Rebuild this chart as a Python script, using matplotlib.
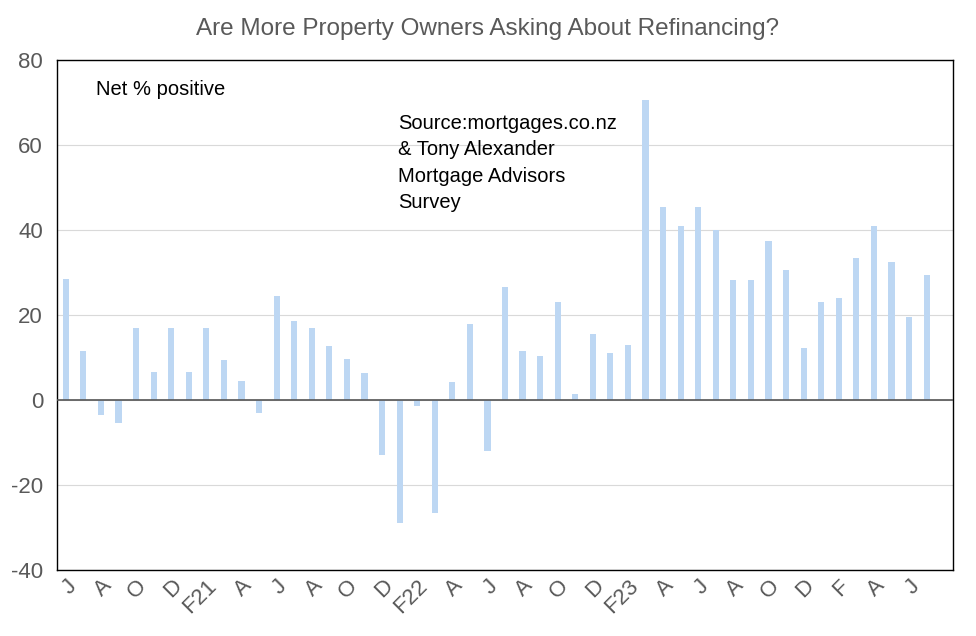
import numpy as np
import matplotlib.pyplot as plt

values = [28.5, 11.5, -3.5, -5.5, 17, 6.5, 17, 6.5, 17, 9.5,
          4.5, -3, 24.5, 18.5, 17, 12.7, 9.7, 6.4, -13, -29,
          -1.5, -26.5, 4.3, 18, -12, 26.5, 11.5, 10.4, 23, 1.5,
          15.5, 11, 13, 70.5, 45.5, 41, 45.5, 40, 28.3, 28.3,
          37.5, 30.5, 12.3, 23, 24, 33.5, 41, 32.5, 19.5, 29.3]
tick_labels = ['J', 'A', 'O', 'D', 'F21', 'A', 'J', 'A', 'O', 'D', 'F22', 'A', 'J',
               'A', 'O', 'D', 'F23', 'A', 'J', 'A', 'O', 'D', 'F', 'A', 'J']

plt.rcParams['font.family'] = ['Liberation Sans', 'DejaVu Sans']
plt.rcParams['axes.unicode_minus'] = False
fig = plt.figure(figsize=(9.76, 6.36), dpi=100)
ax = fig.add_axes([57/976, 66/636, 896/976, 510/636])

x = np.arange(len(values))
ax.bar(x, values, width=0.35, color='#bdd7f3', zorder=2)
ax.axhline(0, color='#555555', lw=1.2, zorder=3)

ax.set_xlim(-0.5, 50.5)
ax.set_ylim(-40, 80)
ax.set_yticks(range(-40, 81, 20))
ax.yaxis.grid(True, color='#d9d9d9', lw=0.8, zorder=0)
ax.set_xticks(x[::2])
ax.set_xticklabels(tick_labels, rotation=45, ha='right', va='top', rotation_mode='anchor',
                   fontsize=16, color='#595959')
ax.tick_params(axis='x', length=0, pad=4)
ax.tick_params(axis='y', length=0, labelsize=16, labelcolor='#595959', pad=10)
for s in ax.spines.values():
    s.set_color('black')
    s.set_linewidth(1)

ax.text(0.043, 0.96, 'Net % positive', transform=ax.transAxes, fontsize=14.5, va='top')
ax.text(0.381, 0.895, 'Source:mortgages.co.nz\n& Tony Alexander\nMortgage Advisors\nSurvey',
        transform=ax.transAxes, fontsize=14.5, va='top', linespacing=1.5)
fig.text(0.5, 0.945, 'Are More Property Owners Asking About Refinancing?', ha='center',
         fontsize=17.5, color='#595959')

fig.savefig('out.png')
